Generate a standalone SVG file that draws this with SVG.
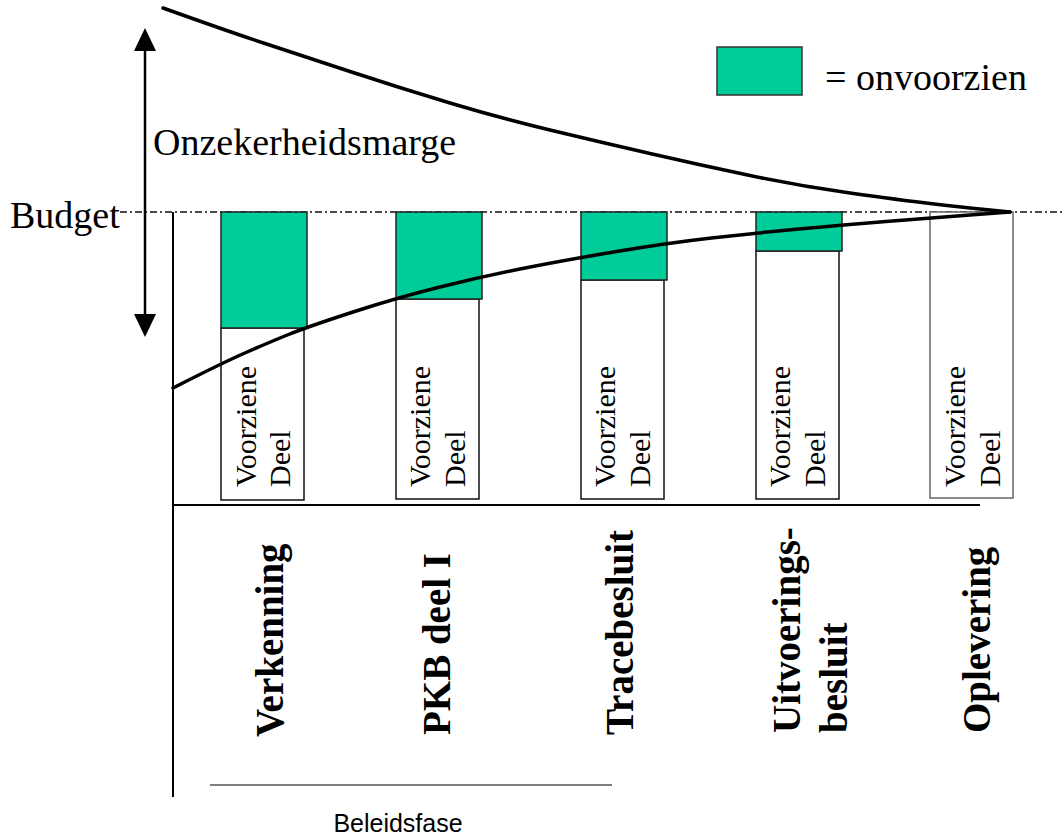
<svg xmlns="http://www.w3.org/2000/svg" width="1064" height="836" viewBox="0 0 1064 836">
<style>
.serif{font-family:"Liberation Serif","Times New Roman",serif;fill:#000}
.lbl{font-size:38px}
.vd{font-size:30px}
.ph{font-size:39px;font-weight:bold}
.sans{font-family:"Liberation Sans",Arial,sans-serif;font-size:25px;fill:#000}
.green{fill:#00CC99;stroke:#222;stroke-width:1.5}
.white{fill:#fff;stroke:#111;stroke-width:1.5}
.curve{fill:none;stroke:#000;stroke-width:3.5;stroke-linejoin:round;stroke-linecap:round}
.axis{stroke:#000;stroke-width:2;fill:none}
</style>
<rect width="1064" height="836" fill="#fff"/>
<g id="budget-line">
<line x1="120" y1="212" x2="1064" y2="212" stroke="#111" stroke-width="1.3" stroke-dasharray="7,3,2,3"/>
</g>
<g id="axes">
<line class="axis" x1="173" y1="212" x2="173" y2="797"/>
<line class="axis" x1="173" y1="505" x2="980" y2="505"/>
<line x1="210" y1="785" x2="612" y2="785" stroke="#000" stroke-width="1.2"/>
</g>
<g id="box1">
<rect class="white" x="221" y="328" width="83" height="172"/>
<rect class="green" x="221" y="212" width="86" height="116"/>
<text class="serif vd" transform="translate(256,487) rotate(-90)">Voorziene</text>
<text class="serif vd" transform="translate(290,487) rotate(-90)">Deel</text>
</g>
<g id="box2">
<rect class="white" x="396" y="299" width="83" height="200"/>
<rect class="green" x="396" y="212" width="86" height="87"/>
<text class="serif vd" transform="translate(430,487) rotate(-90)">Voorziene</text>
<text class="serif vd" transform="translate(465,487) rotate(-90)">Deel</text>
</g>
<g id="box3">
<rect class="white" x="581" y="280" width="83" height="219"/>
<rect class="green" x="581" y="212" width="86" height="68"/>
<text class="serif vd" transform="translate(615,487) rotate(-90)">Voorziene</text>
<text class="serif vd" transform="translate(650,487) rotate(-90)">Deel</text>
</g>
<g id="box4">
<rect class="white" x="756" y="251" width="83" height="248"/>
<rect class="green" x="756" y="212" width="86" height="39"/>
<text class="serif vd" transform="translate(790,487) rotate(-90)">Voorziene</text>
<text class="serif vd" transform="translate(825,487) rotate(-90)">Deel</text>
</g>
<g id="box5">
<rect x="930" y="212" width="83" height="286" fill="#fff" stroke="#666" stroke-width="1.5"/>
<text class="serif vd" transform="translate(965,487) rotate(-90)">Voorziene</text>
<text class="serif vd" transform="translate(1000,487) rotate(-90)">Deel</text>
</g>
<g id="connectors">
<path class="curve" d="M163,8 Q230,32 265,43.5 Q300,55 350,71.5 Q400,88 450,103 Q500,118 550,130 Q600,142 650,153.5 Q700,165 750,175.5 Q800,186 850,193 Q900,200 930,203.5 Q960,207 985,209.5 L1010,212"/>
<path class="curve" d="M173,388 Q222,363 246,352.5 Q270,342 288.5,334.5 Q307,327 351.5,312.5 Q396,298 438,287.5 Q480,277 520,269 Q560,261 613.5,252 Q667,243 711.5,238 Q756,233 799,229 Q842,225 886,221.5 Q930,218 970,215 L1010,212"/>
<line x1="145" y1="48" x2="145" y2="317" stroke="#000" stroke-width="2.5"/>
<polygon points="145,28 134,51 156,51" fill="#000"/>
<polygon points="145,337 134,314 156,314" fill="#000"/>
</g>
<g id="labels">
<text class="serif lbl" x="10" y="228">Budget</text>
<text class="serif lbl" x="153" y="155">Onzekerheidsmarge</text>
</g>
<g id="legend">
<rect x="717" y="47" width="85" height="48" fill="#00CC99" stroke="#333" stroke-width="1.5"/>
<text class="serif lbl" x="825" y="90">= onvoorzien</text>
</g>
<g id="phases">
<text class="serif ph" transform="translate(283,737) rotate(-90)">Verkenning</text>
<text class="serif ph" transform="translate(450,735) rotate(-90)">PKB deel I</text>
<text class="serif ph" transform="translate(633,735) rotate(-90)">Tracebesluit</text>
<text class="serif ph" transform="translate(800,733) rotate(-90)">Uitvoerings-</text>
<text class="serif ph" transform="translate(847,733) rotate(-90)">besluit</text>
<text class="serif ph" transform="translate(990,733) rotate(-90)">Oplevering</text>
</g>
<g id="beleidsfase">
<text class="sans" x="398" y="832" text-anchor="middle">Beleidsfase</text>
</g>
</svg>
